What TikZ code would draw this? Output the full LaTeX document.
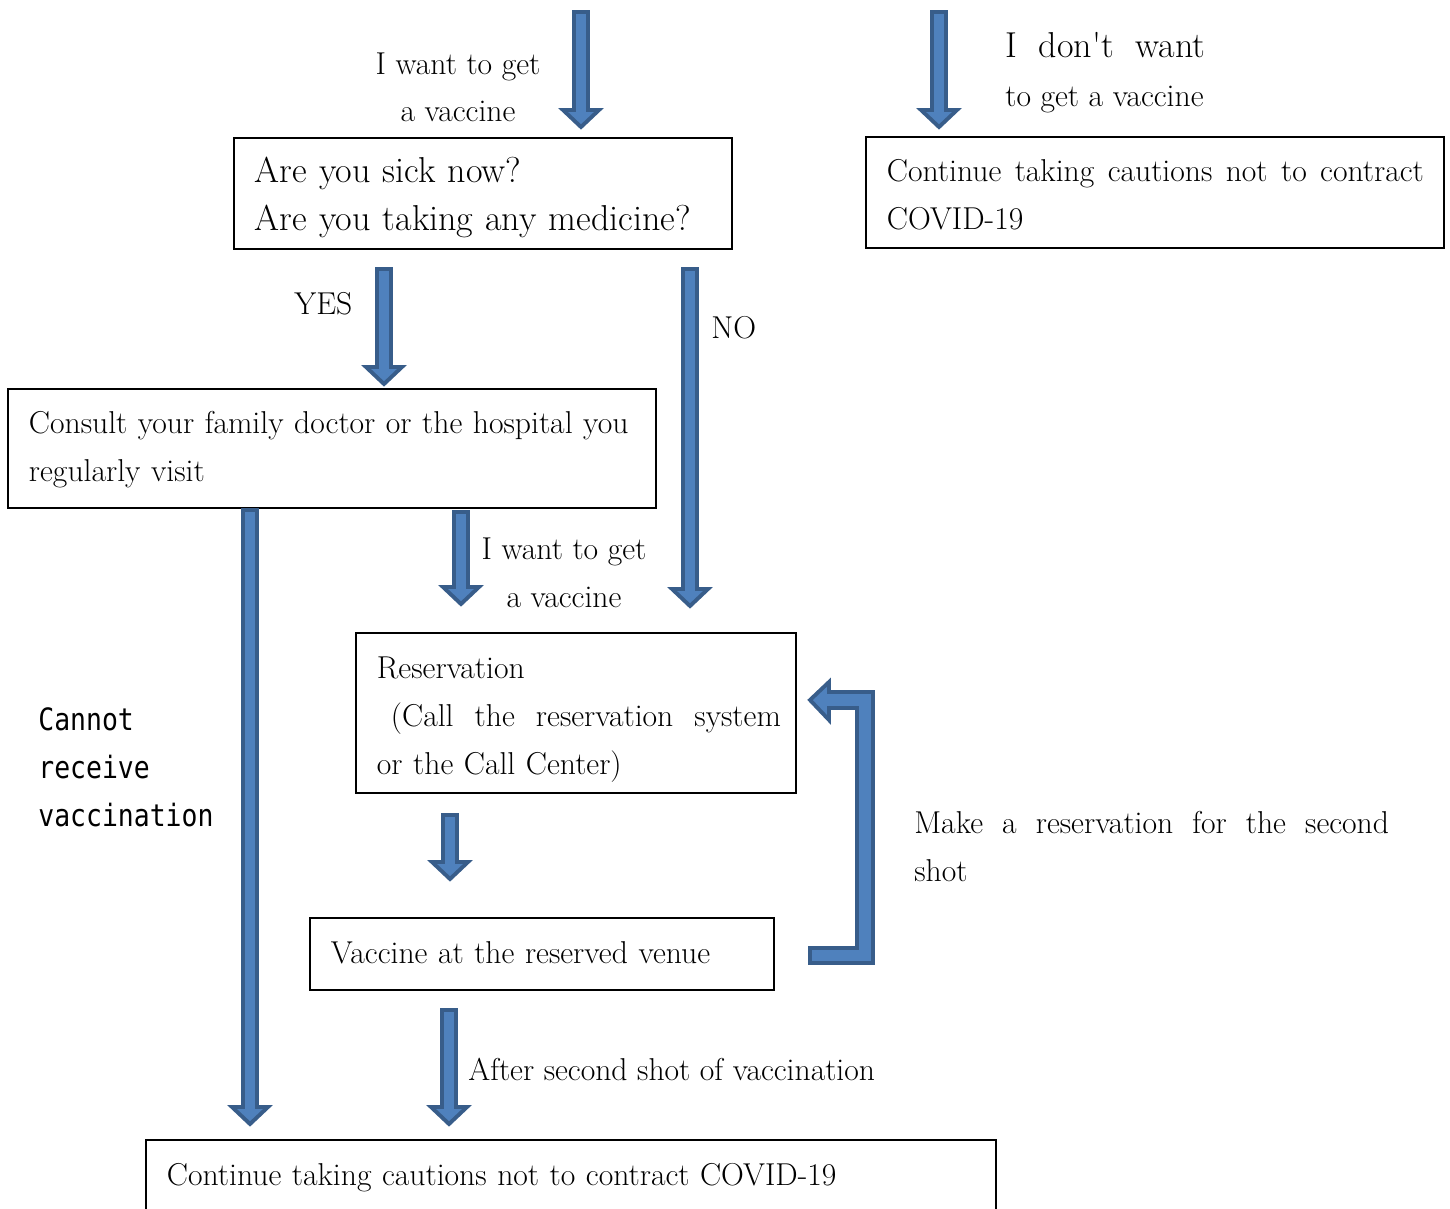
\documentclass[tikz,border=0pt]{standalone}
\usepackage{fontspec}
\newfontfamily\gothic[FakeStretch=0.86]{DejaVu Sans Mono}
\definecolor{arrowfill}{HTML}{4F81BD}
\definecolor{arrowline}{HTML}{385D8A}

% block arrow pointing down: x, top y, tip y (pixel units)
\newcommand{\downblock}[3]{%
  \draw[blockarrow] (#1-7,#2+2) -- (#1-7,#3-20) -- (#1-18,#3-20) -- (#1,#3-3)
    -- (#1+18,#3-20) -- (#1+7,#3-20) -- (#1+7,#2+2) -- cycle;}

\tikzset{
  blockarrow/.style={fill=arrowfill, draw=arrowline, line width=2.2pt, line join=miter},
  stepbox/.style={draw, line width=1.1pt, rectangle, align=left, inner xsep=0.42cm,
    inner ysep=0pt, anchor=north west, font=\fontsize{18}{27.3}\selectfont},
  label/.style={align=left, inner sep=0pt, font=\fontsize{18}{27.3}\selectfont}
}

\begin{document}
\begin{tikzpicture}[x=0.02cm, y=-0.02cm]
  \useasboundingbox (0,0) rectangle (1450,1209);

  % boxes
  \node[stepbox, text width=9.12cm, text height=0.9cm, text depth=1.32cm,
    font=\fontsize{20.5}{27.3}\selectfont] (sick) at (233,137)
    {\mbox{Are you sick now?}\\\mbox{Are you taking any medicine?}};
  \node[stepbox, text width=10.72cm, text height=0.9cm, text depth=1.32cm] (nowant) at (865,136)
    {\mbox{Continue\hspace{0.09em} taking\hspace{0.09em} cautions\hspace{0.09em} not\hspace{0.09em} to\hspace{0.09em} contract}\\COVID-19};
  \node[stepbox, text width=12.12cm, text height=0.9cm, text depth=1.48cm] (consult) at (7,388)
    {\mbox{Consult your family doctor or the hospital you}\\regularly visit};
  \node[stepbox, text width=7.96cm, text height=0.92cm, text depth=2.28cm] (reserve) at (355,632)
    {Reservation\\\mbox{\hspace{0.28cm}(Call\ \ the\ \ reservation\ \ system}\\\mbox{or the Call Center)}};
  \node[stepbox, text width=8.44cm, text height=0.92cm, text depth=0.52cm] (venue) at (309,917)
    {\mbox{Vaccine at the reserved venue}};
  \node[stepbox, text width=16.16cm, text height=0.92cm, text depth=1.5cm] (keepsafe) at (145,1139)
    {\mbox{Continue taking cautions not to contract COVID-19}};

  % arrows
  \downblock{581}{10}{130}
  \downblock{939}{10}{130}
  \downblock{384}{267}{387}
  \downblock{690}{267}{609}
  \downblock{250}{508}{1127}
  \downblock{461}{510}{607}
  \downblock{450}{813}{882}
  \downblock{449}{1008}{1127}
  % second shot loop
  \draw[blockarrow] (810,963) -- (873,963) -- (873,692) -- (829,692) -- (829,682)
    -- (810,700) -- (829,720) -- (829,708) -- (857,708) -- (857,948) -- (810,948) -- cycle;

  % labels
  \node[label, align=center, anchor=base] (want1) at (458,122) {I want to get\\a vaccine};
  \node[label, anchor=base west, font=\fontsize{20.5}{27.3}\selectfont] (dontwant) at (1005,58)
    {I\hspace{0.6em}don\textquotesingle t\hspace{0.6em}want};
  \node[label, anchor=base west] (dontwant2) at (1005,107) {to get a vaccine};
  \node[label, anchor=base west] (yes) at (294,315) {YES};
  \node[label, anchor=base west] (no) at (711,338) {NO};
  \node[label, align=center, anchor=base] (want2) at (564,607) {I want to get\\a vaccine};
  \node[label, anchor=base west, font=\gothic\fontsize{17.5}{27.3}\selectfont] (cannot) at (38,826)
    {Cannot\\receive\\vaccination};
  \node[label, anchor=base west] (second) at (914,881)
    {Make\ \ a\ \ reservation\ \ for\ \ the\ \ second\\shot};
  \node[label, anchor=base west] (after) at (468,1080) {After second shot of vaccination};
\end{tikzpicture}
\end{document}
